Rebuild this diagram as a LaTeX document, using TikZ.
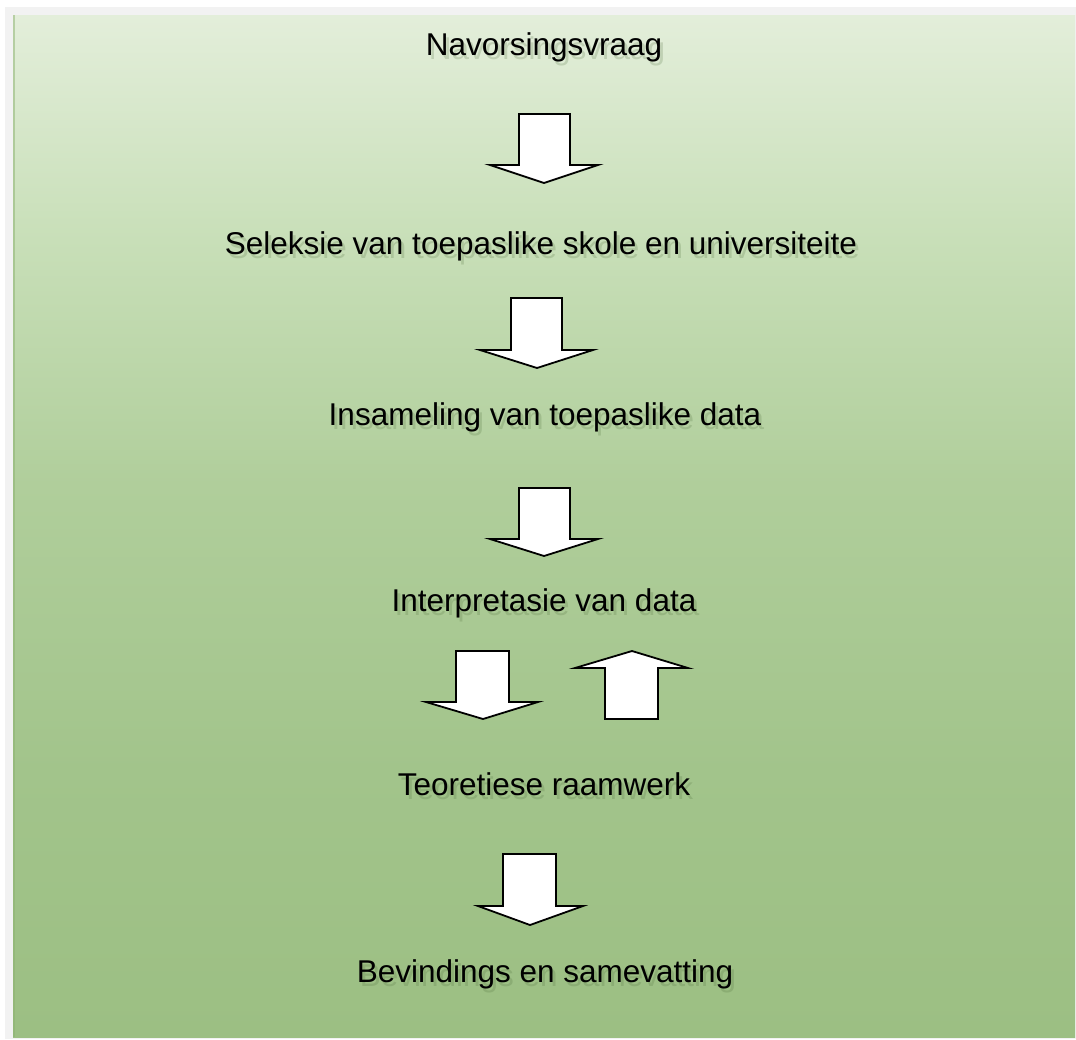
\documentclass[tikz,border=0pt]{standalone}
\usepackage{fontspec}
\setmainfont{Liberation Sans}
\definecolor{panelframe}{RGB}{242,242,242}
\definecolor{bgtop}{RGB}{227,238,218}
\definecolor{bgupper}{RGB}{200,223,184}
\definecolor{bgmid}{RGB}{176,206,155}
\definecolor{bglow}{RGB}{162,196,139}
\definecolor{bgbot}{RGB}{156,191,131}
\definecolor{paneledge}{RGB}{140,178,112}
\definecolor{shadowgreen}{RGB}{70,100,50}
% vertical fill of the panel, light at the top and deeper green below
\pgfdeclareverticalshading{panelfill}{100bp}{color(0bp)=(bgbot); color(25bp)=(bgbot); color(38bp)=(bglow); color(52bp)=(bgmid); color(64bp)=(bgupper); color(75bp)=(bgtop); color(100bp)=(bgtop)}
\tikzset{
  steptext/.style={font=\fontsize{31.5}{36}\selectfont, anchor=base, inner sep=0pt, text=black},
  stepshadow/.style={steptext, text=shadowgreen, text opacity=0.2},
  blockarrow/.style={draw=black, fill=white, line width=1.8pt, line join=miter},
}
\newcommand{\steplabel}[4]{%
  \node[stepshadow] (#1-shadow) at (#2+3,#3+4) {#4};
  \node[steptext] (#1) at (#2,#3) {#4};
}
\begin{document}
\begin{tikzpicture}[x=1pt,y=-1pt]
  \useasboundingbox (0,0) rectangle (1076,1039);
  \fill[white] (0,0) rectangle (1076,1039);
  % frame and shaded panel
  \fill[panelframe] (5,7) rectangle (1076,1039);
  \shade[shading=panelfill] (13,15) rectangle (1075,1037);
  \fill[paneledge, opacity=0.5] (13,15) rectangle (15,1037);

  % steps
  \steplabel{q}{544}{55}{Navorsingsvraag}
  \steplabel{sel}{541}{254}{Seleksie van toepaslike skole en universiteite}
  \steplabel{ins}{545}{425}{Insameling van toepaslike data}
  \steplabel{int}{544}{611}{Interpretasie van data}
  \steplabel{teo}{544}{795}{Teoretiese raamwerk}
  \steplabel{bev}{545}{982}{Bevindings en samevatting}

  % block arrows between the steps
  \draw[blockarrow] (519,114) -- (570,114) -- (570,165) -- (598,165) -- (544,183) -- (490,165) -- (519,165) -- cycle;
  \draw[blockarrow] (511,298) -- (562,298) -- (562,350) -- (593,350) -- (537,368) -- (480,350) -- (511,350) -- cycle;
  \draw[blockarrow] (519,488) -- (570,488) -- (570,539) -- (598,539) -- (544,556) -- (490,539) -- (519,539) -- cycle;
  \draw[blockarrow] (456,651) -- (509,651) -- (509,702) -- (538,702) -- (483,719) -- (426,702) -- (456,702) -- cycle;
  \draw[blockarrow] (632,651) -- (688,668) -- (658,668) -- (658,719) -- (605,719) -- (605,668) -- (575,668) -- cycle;
  \draw[blockarrow] (503,854) -- (556,854) -- (556,906) -- (583,906) -- (530,925) -- (478,906) -- (503,906) -- cycle;
\end{tikzpicture}
\end{document}
